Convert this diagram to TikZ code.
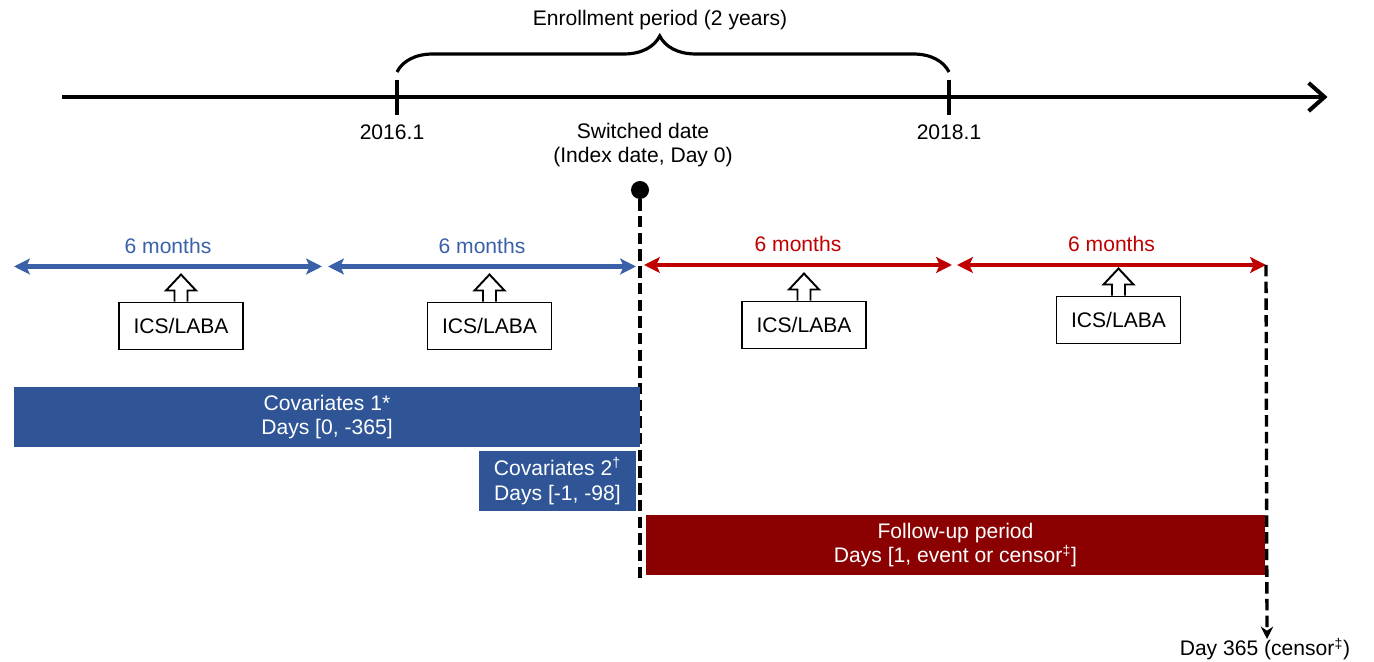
\documentclass[tikz,border=0pt]{standalone}
\usepackage{fontspec}
\setmainfont{Liberation Sans}
\usetikzlibrary{positioning,arrows.meta,calc,decorations.pathreplacing}
\definecolor{barblue}{HTML}{2F5597}
\definecolor{arrowblue}{HTML}{3A60A8}
\definecolor{arrowred}{HTML}{C00000}
\definecolor{barred}{HTML}{8B0000}

\begin{document}
\begin{tikzpicture}[
    font=\fontsize{12}{14}\selectfont,
    barStyle/.style={rectangle, inner sep=0pt, minimum height=1.2cm, text=white, align=center},
    icsBox/.style={rectangle, draw=black, line width=1.1pt, fill=white, minimum width=2.48cm, minimum height=0.94cm},
    spanArrow/.style={line width=2.4pt, {Stealth[length=9pt,width=9pt,inset=2pt]}-{Stealth[length=9pt,width=9pt,inset=2pt]}},
    indexLine/.style={line width=1.9pt, dash pattern=on 6.5pt off 3pt}
]
    \useasboundingbox (0,0) rectangle (27.48,13.22);

    % Timeline
    \coordinate (tlstart) at (1.24, 11.28);
    \coordinate (tlend) at (26.55, 11.28);
    \draw[line width=2.3pt, -{Straight Barb[length=9pt,width=16pt,line width=2.3pt]}] (tlstart) -- (tlend);

    % Ticks and enrollment brace
    \coordinate (t16) at (7.94, 11.28);
    \coordinate (t18) at (18.98, 11.28);
    \draw[line width=2.3pt] ($(t16)+(0,0.34)$) -- ($(t16)+(0,-0.36)$);
    \draw[line width=2.3pt] ($(t18)+(0,0.34)$) -- ($(t18)+(0,-0.36)$);
    \draw[line width=1.8pt, decorate, decoration={brace, amplitude=0.72cm, aspect=0.476}]
        ($(t16)+(0,0.5)$) -- ($(t18)+(0,0.5)$);
    \node (enroll) at (13.2, 12.82) {Enrollment period (2 years)};
    \node (l16) at (7.84, 10.58) {2016.1};
    \node (l18) at (18.98, 10.58) {2018.1};
    \node[align=center] (switch) at (12.86, 10.32) {Switched date\\(Index date, Day 0)};

    % Index date
    \node[circle, fill=black, inner sep=0pt, minimum size=0.36cm] (dot) at (12.8, 9.42) {};
    \coordinate (idxend) at (12.8, 1.66);
    \draw[indexLine] (dot) -- (idxend);

    % 6 month spans
    \coordinate (p0) at (0.28, 7.89);
    \coordinate (p1) at (6.44, 7.89);
    \coordinate (p2) at (6.56, 7.89);
    \coordinate (p3) at (12.72, 7.89);
    \coordinate (p4) at (12.88, 7.92);
    \coordinate (p5) at (19.04, 7.92);
    \coordinate (p6) at (19.14, 7.92);
    \coordinate (p7) at (25.32, 7.92);
    \draw[spanArrow, arrowblue] (p0) -- node[above=3pt] (m1) {6 months} (p1);
    \draw[spanArrow, arrowblue] (p2) -- node[above=3pt] (m2) {6 months} (p3);
    \draw[spanArrow, arrowred] (p4) -- node[above=3pt] (m3) {6 months} (p5);
    \draw[spanArrow, arrowred] (p6) -- node[above=3pt] (m4) {6 months} (p7);

    % Censoring at day 365
    \node (day365) at (25.3, 0.24) {Day 365 (censor\textsuperscript{‡})};
    \coordinate (cend) at (25.34, 0.44);
    \draw[indexLine, -{Stealth[length=7pt,width=7pt]}] (p7) -- (cend);

    % ICS/LABA boxes
    \node[icsBox] (ics1) at (3.62, 6.7) {ICS/LABA};
    \node[icsBox] (ics2) at (9.79, 6.7) {ICS/LABA};
    \node[icsBox] (ics3) at (16.08, 6.72) {ICS/LABA};
    \node[icsBox] (ics4) at (22.37, 6.82) {ICS/LABA};
    \foreach \b in {ics1,ics2,ics3,ics4} {
        \draw[line width=1.1pt, fill=white, line join=miter]
            ($(\b.north)+(-0.13,0)$) -- ++(0,0.22) -- ++(-0.17,0) -- ++(0.3,0.32)
            -- ++(0.3,-0.32) -- ++(-0.17,0) -- ++(0,-0.22);
    }

    % Covariate windows
    \node[barStyle, fill=barblue, minimum width=12.52cm] (cov1) at (6.54, 4.88) {Covariates 1*\\Days [0, -365]};
    \node[barStyle, fill=barblue, minimum width=3.14cm] (cov2) at (11.15, 3.6) {Covariates 2\textsuperscript{†}\\Days [-1, -98]};

    % Follow-up
    \node[barStyle, fill=barred, minimum width=12.38cm] (follow) at (19.11, 2.32) {Follow-up period\\Days [1, event or censor\textsuperscript{‡}]};
\end{tikzpicture}
\end{document}
